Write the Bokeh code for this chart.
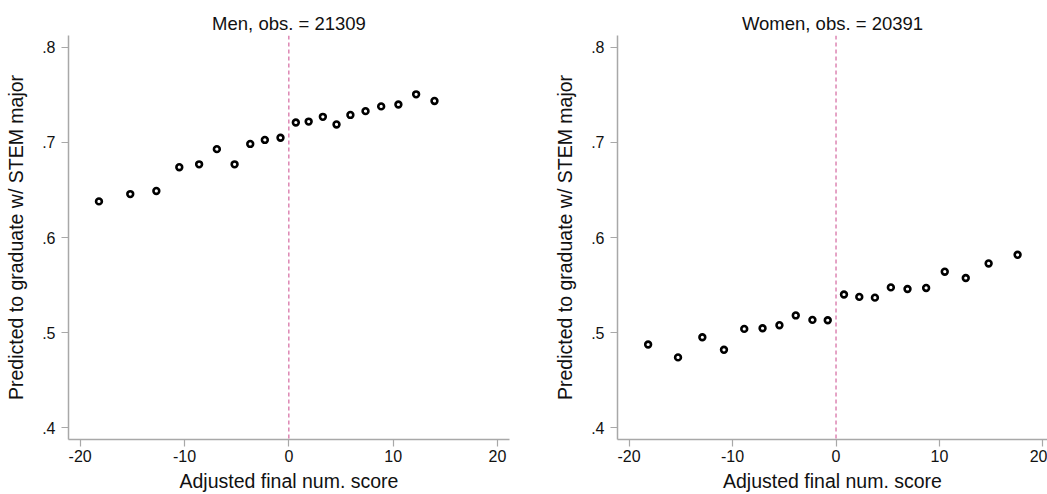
from bokeh.plotting import figure
from bokeh.layouts import row
from bokeh.models import Span, FixedTicker
from bokeh.embed import file_html
from bokeh.resources import INLINE

# Binned predicted probabilities around the cutoff
men_x = [-18.2, -15.2, -12.7, -10.5, -8.6, -6.9, -5.2, -3.7, -2.3, -0.8,
         0.67, 1.9, 3.26, 4.57, 5.9, 7.35, 8.85, 10.5, 12.2, 13.96]
men_y = [0.638, 0.6457, 0.649, 0.674, 0.677, 0.693, 0.677, 0.6985, 0.7027, 0.705,
         0.721, 0.722, 0.727, 0.719, 0.729, 0.733, 0.738, 0.740, 0.7507, 0.7437]

women_x = [-18.16, -15.27, -12.92, -10.83, -8.87, -7.1, -5.47, -3.89, -2.28, -0.8,
           0.77, 2.25, 3.76, 5.3, 6.91, 8.71, 10.51, 12.54, 14.75, 17.55]
women_y = [0.4874, 0.4738, 0.495, 0.4818, 0.5038, 0.5045, 0.5077, 0.518, 0.5133, 0.5129,
           0.540, 0.5375, 0.5367, 0.5475, 0.5458, 0.5469, 0.564, 0.5574, 0.5727, 0.5818]

x_ticks = [-20, -10, 0, 10, 20]
x_tick_labels = {-20: "-20", -10: "-10", 0: "0", 10: "10", 20: "20"}
y_ticks = [0.4, 0.5, 0.6, 0.7, 0.8]
y_tick_labels = {0.4: ".4", 0.5: ".5", 0.6: ".6", 0.7: ".7", 0.8: ".8"}

FONT = "Liberation Sans"
AXIS_GRAY = "#a8a8a8"
CUTOFF_COLOR = "#d4679f"


def panel(title, xs, ys, width, x_end, border_left, border_right):
    p = figure(width=width, height=494, output_backend="svg", toolbar_location=None,
               x_range=(-21.12, x_end), y_range=(0.3874, 0.8126),
               min_border_left=border_left, min_border_right=border_right,
               min_border_top=35, min_border_bottom=54,
               title=title)
    p.title.text_font = FONT
    p.title.text_font_size = "18.5px"
    p.title.text_font_style = "normal"
    p.title.align = "center"
    p.title.text_color = "#111111"
    p.title.offset = 0
    p.title.standoff = 4

    p.outline_line_color = None
    p.background_fill_color = "white"
    p.border_fill_color = "white"
    p.xgrid.visible = False
    p.ygrid.visible = False

    for ax in (p.xaxis[0], p.yaxis[0]):
        ax.axis_line_color = AXIS_GRAY
        ax.axis_line_width = 1.5
        ax.major_tick_line_color = AXIS_GRAY
        ax.major_tick_line_width = 1.2
        ax.major_tick_out = 7
        ax.major_tick_in = 0
        ax.minor_tick_line_color = None
        ax.major_label_text_font = FONT
        ax.major_label_text_font_size = "16px"
        ax.major_label_text_color = "#111111"
        ax.axis_label_text_font = FONT
        ax.axis_label_text_font_size = "19.5px"
        ax.axis_label_text_font_style = "normal"
        ax.axis_label_text_color = "#111111"

    p.xaxis.ticker = FixedTicker(ticks=x_ticks)
    p.xaxis.major_label_overrides = x_tick_labels
    p.xaxis.axis_label = "Adjusted final num. score"
    p.xaxis.major_label_standoff = 3
    p.xaxis.axis_label_standoff = 5

    p.yaxis.ticker = FixedTicker(ticks=y_ticks)
    p.yaxis.major_label_overrides = y_tick_labels
    p.yaxis.major_label_orientation = "horizontal"
    p.yaxis.axis_label = "Predicted to graduate w/ STEM major"
    p.yaxis.major_label_standoff = 6
    p.yaxis.axis_label_standoff = 12

    p.add_layout(Span(location=0, dimension="height", line_color=CUTOFF_COLOR,
                      line_width=1.2, line_dash="4 3"))

    p.scatter(xs, ys, marker="circle", size=5.8, fill_color="white",
              line_color="black", line_width=2.6)
    return p


left = panel("Men, obs. = 21309", men_x, men_y, 520, 21.15, 68, 11)
right = panel("Women, obs. = 20391", women_x, women_y, 527, 20.44, 97, 0)

layout = row(left, right, spacing=0)
open("out.html", "w").write(file_html(layout, INLINE))
